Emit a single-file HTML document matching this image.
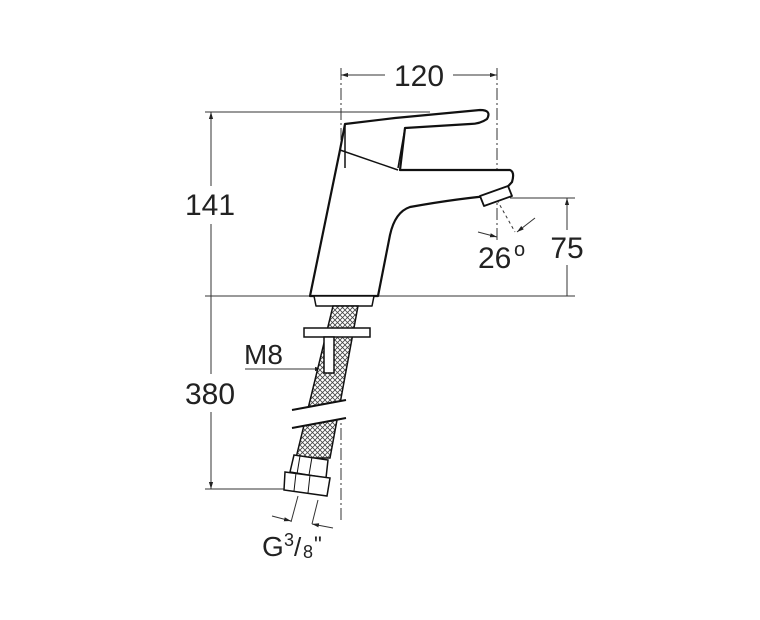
<!DOCTYPE html>
<html><head><style>html,body{margin:0;padding:0;background:#fff}svg{display:block}</style></head><body>
<svg width="760" height="620" viewBox="0 0 760 620" xmlns="http://www.w3.org/2000/svg" font-family="Liberation Sans, sans-serif">
<defs>
<pattern id="mesh" width="5" height="5" patternUnits="userSpaceOnUse"><rect width="5" height="5" fill="#fff"/><path d="M0 0L5 5M5 0L0 5" stroke="#444" stroke-width="0.8"/></pattern>
<marker id="a" viewBox="0 0 10 10" refX="10" refY="5" markerWidth="7" markerHeight="7" orient="auto-start-reverse"><path d="M0 2L10 5L0 8z" fill="#222"/></marker>
</defs>
<g stroke="#333" stroke-width="1" fill="none">
<line x1="341" y1="68" x2="341" y2="520" stroke-dasharray="12 3 2 3"/>
<line x1="497" y1="68" x2="497" y2="240" stroke-dasharray="12 3 2 3"/>
<line x1="341" y1="75" x2="385" y2="75" marker-start="url(#a)"/>
<line x1="453" y1="75" x2="497" y2="75" marker-end="url(#a)"/>
<line x1="205" y1="112" x2="430" y2="112"/>
<line x1="205" y1="296" x2="312" y2="296"/>
<line x1="378" y1="296" x2="575" y2="296"/>
<line x1="211" y1="112" x2="211" y2="186" marker-start="url(#a)"/>
<line x1="211" y1="224" x2="211" y2="296"/>
<line x1="211" y1="296" x2="211" y2="374"/>
<line x1="211" y1="412" x2="211" y2="489" marker-end="url(#a)"/>
<line x1="205" y1="489" x2="290" y2="489"/>
<line x1="510" y1="198" x2="575" y2="198"/>
<line x1="567" y1="198" x2="567" y2="230" marker-start="url(#a)"/>
<line x1="567" y1="265" x2="567" y2="296"/>
<line x1="497" y1="200" x2="515" y2="232" stroke-dasharray="3 3"/>
<line x1="478" y1="232" x2="497" y2="237" marker-end="url(#a)"/>
<line x1="535" y1="218" x2="517" y2="232" marker-end="url(#a)"/>
<line x1="245" y1="369" x2="322" y2="369" marker-end="url(#a)"/>
<line x1="298" y1="496" x2="291" y2="522"/>
<line x1="318" y1="500" x2="312" y2="524"/>
<line x1="272" y1="516" x2="291" y2="521" marker-end="url(#a)"/>
<line x1="333" y1="528" x2="312" y2="524" marker-end="url(#a)"/>
</g>
<g stroke="#111" stroke-width="2.2" fill="#fff" stroke-linejoin="round">
<path d="M340 150 L345 124 L395 118 L480 110 Q492 110 487 119 Q480 124 470 124 L405 128 L400 170 L510 170 Q515 172 512 182 L500 195 Q460 198 410 207 Q395 212 390 235 L378 296 L310 296 Z"/>
<path d="M345 124 L345 168 M405 128 L398 168 M340 150 L398 170" fill="none" stroke-width="1.5"/>
<path d="M480 196 L508 186 L512 196 L484 206 Z" stroke-width="1.8"/>
<path d="M314 296 L374 296 L372 306 L316 306 Z" stroke-width="1.5"/>
</g>
<g stroke="#111" stroke-width="1.5">
<path d="M333 306 L358 306 L330 458 L296 458 Z" fill="url(#mesh)"/>
<rect x="304" y="328" width="66" height="9" fill="#fff"/>
<rect x="324" y="337" width="10" height="36" fill="#fff"/>
<path d="M296 410 L345 400 L345 419 L296 428 Z" fill="#fff" stroke="none"/>
<path d="M292 410 L346 400 M292 428 L346 418" stroke-width="2"/>
<path d="M294 455 L328 460 L326 478 L290 472 Z" fill="#fff"/>
<path d="M285 472 L330 478 L327 496 L284 490 Z" fill="#fff"/>
<path d="M300 456 L297 474 M312 457 L309 475 M296 473 L294 491 M310 475 L308 493" fill="none" stroke-width="1"/>
</g>
<g fill="#222" font-size="30">
<text x="419" y="86" text-anchor="middle">120</text>
<text x="210" y="215" text-anchor="middle">141</text>
<text x="210" y="404" text-anchor="middle">380</text>
<text x="567" y="258" text-anchor="middle">75</text>
<text x="478" y="268">26</text>
<text x="514" y="256" font-size="20">o</text>
<text x="244" y="364" font-size="28">M8</text>
<text x="262" y="556" font-size="28">G</text>
<text x="284" y="546" font-size="18">3</text>
<text x="294" y="556" font-size="26">/</text>
<text x="303" y="558" font-size="18">8</text>
<text x="314" y="552" font-size="22">"</text>
</g>
</svg>
</body></html>
